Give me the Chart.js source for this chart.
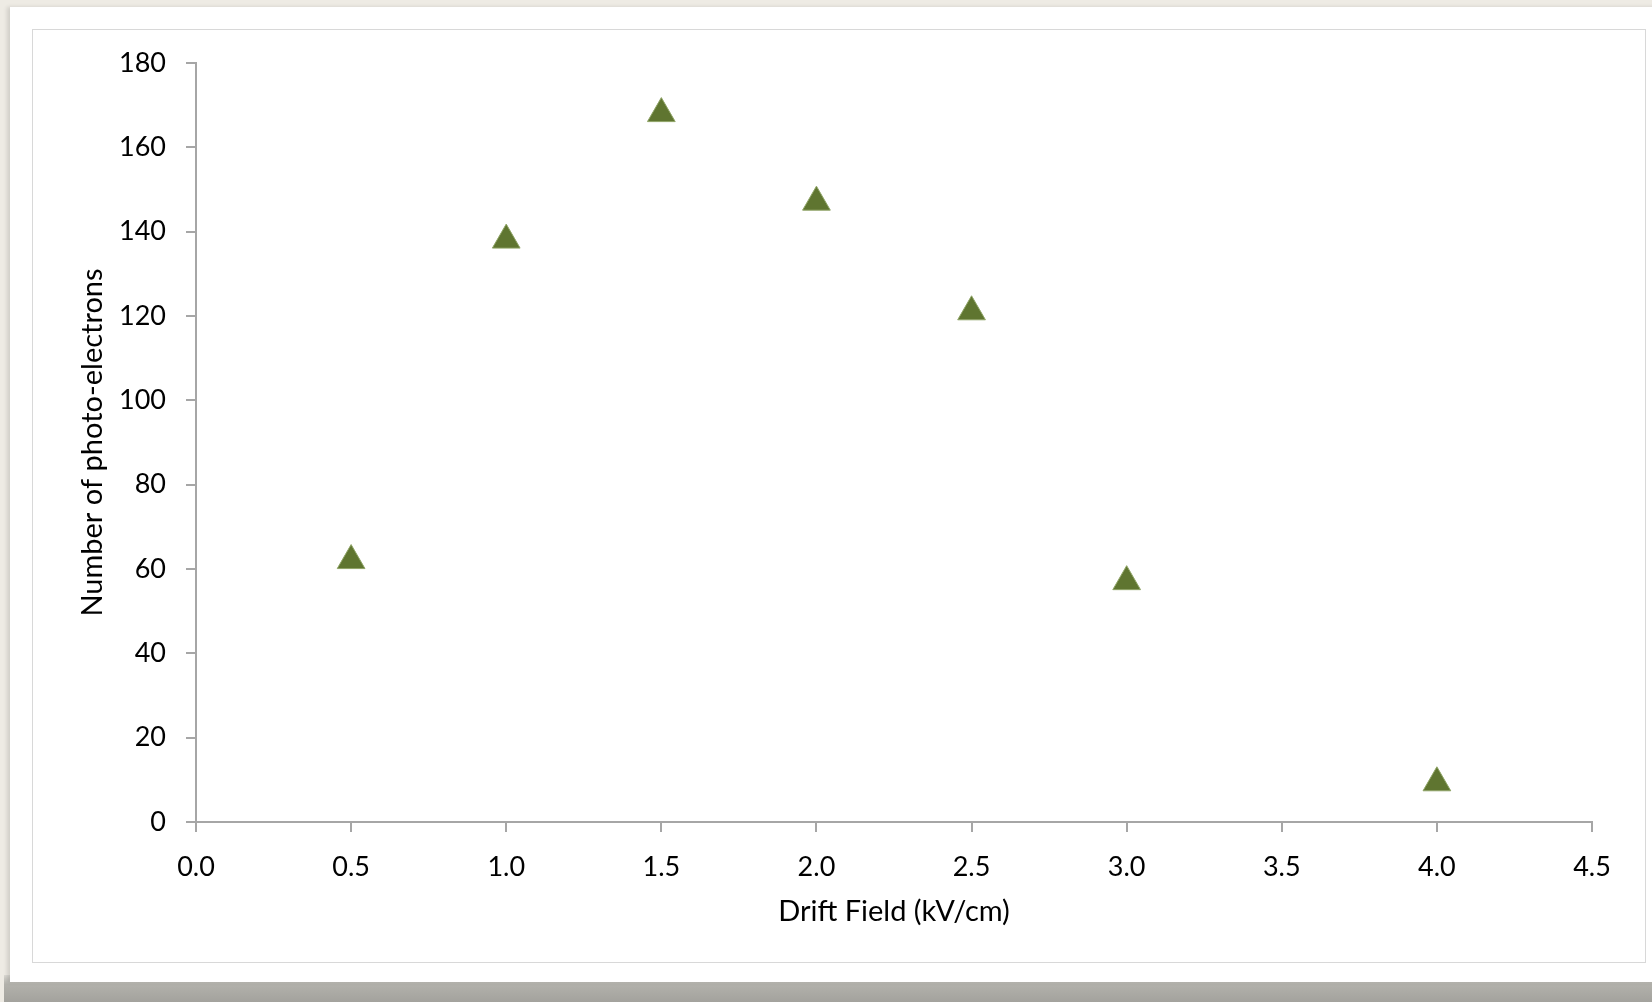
<!DOCTYPE html>
<html>
<head>
<meta charset="utf-8">
<script src="https://cdn.jsdelivr.net/npm/chart.js@4/dist/chart.umd.min.js"></script>
<style>
  html, body { margin:0; padding:0; width:1652px; height:1002px; overflow:hidden; background:#eeebe4; }
  #shadow { position:absolute; left:4px; top:975px; width:1660px; height:27px;
    background:linear-gradient(to bottom, #dcdad4 0%, #b2b1ab 35%, #a3a29d 100%); }
  #card { position:absolute; left:10px; top:7px; width:1650px; height:975px; background:#fff;
    box-shadow:-3px 0 4px rgba(0,0,0,0.12); }
  #inner { position:absolute; left:32px; top:29px; width:1612px; height:932px; border:1px solid #d8d8d8; background:#fff; }
  #wrap { position:absolute; left:0; top:0; width:1652px; height:1002px; }
</style>
</head>
<body>
<div id="shadow"></div>
<div id="card"></div>
<div id="inner"></div>
<div id="wrap"><canvas id="c" width="1652" height="1002"></canvas></div>
<script>
const driftField = [0.5, 1.0, 1.5, 2.0, 2.5, 3.0, 4.0];
const photoElectrons = [62, 138, 168, 147, 121, 57, 9.3];
const xTitle = 'Drift Field (kV/cm)';
const yTitle = 'Number of photo-electrons';

const FONT = 'Lato, "Open Sans", sans-serif';
const AXIS = '#a6a6a6';

new Chart(document.getElementById('c'), {
  type: 'scatter',
  data: {
    datasets: [{
      data: driftField.map((x, i) => ({ x: x, y: photoElectrons[i] })),
      pointStyle: 'triangle',
      pointRadius: 16,
      pointHoverRadius: 16,
      backgroundColor: '#5f7530',
      borderColor: '#8fa466',
      borderWidth: 1
    }]
  },
  options: {
    responsive: false,
    animation: false,
    events: [],
    layout: { padding: { left: 75, top: 63, right: 60, bottom: 73 } },
    plugins: { legend: { display: false }, tooltip: { enabled: false } },
    scales: {
      x: {
        type: 'linear', min: 0, max: 4.5,
        afterFit: s => { s.height = 107; },
        ticks: { stepSize: 0.5, callback: v => Number(v).toFixed(1), color: '#000',
                 font: { family: FONT, size: 27 }, padding: 19, maxRotation: 0 },
        grid: { drawOnChartArea: false, drawTicks: true, tickLength: 10, color: AXIS, lineWidth: 2 },
        border: { display: true, color: AXIS, width: 2 },
        title: { display: true, text: xTitle, color: '#000', font: { family: FONT, size: 29 }, padding: 0 }
      },
      y: {
        type: 'linear', min: 0, max: 180,
        afterFit: s => { s.width = 121; },
        ticks: { stepSize: 20, color: '#000', font: { family: FONT, size: 27 }, padding: 20 },
        grid: { drawOnChartArea: false, drawTicks: true, tickLength: 10, color: AXIS, lineWidth: 2 },
        border: { display: true, color: AXIS, width: 2 },
        title: { display: true, text: yTitle, color: '#000', font: { family: FONT, size: 29 }, padding: 0 }
      }
    }
  }
});
</script>
</body>
</html>
